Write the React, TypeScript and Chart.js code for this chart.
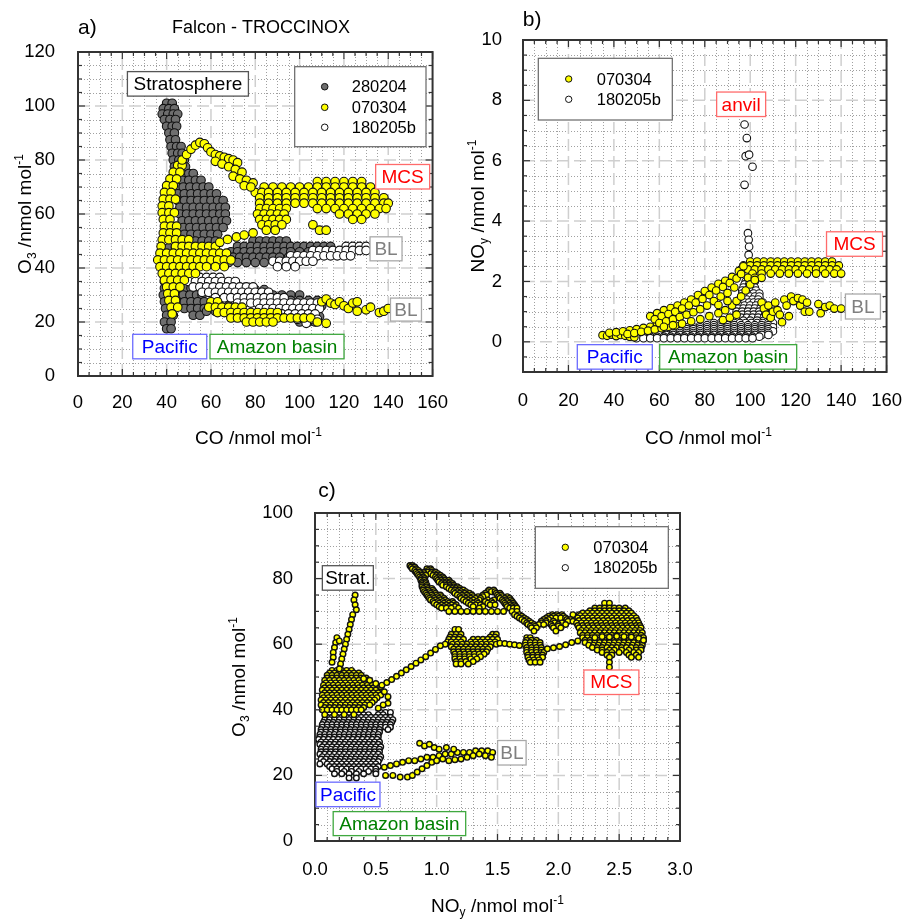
import React, { useEffect, useRef } from 'react';
import { Chart, registerables } from 'chart.js';

Chart.register(...registerables);

type P = [number, number];
type Row = number[]; // [y, x1, x2, ...]

const FAMILY = '"Liberation Sans", Arial, Helvetica, sans-serif';

// ---------------- Panel a : O3 vs CO ----------------
const A_X_TICKS = [0, 20, 40, 60, 80, 100, 120, 140, 160];
const A_Y_TICKS = [0, 20, 40, 60, 80, 100, 120];
const A_SERIES = ['280204', '070304', '180205b'];

const A_GREY_ROWS: Row[] = [
  [101, 40, 42.5],
  [99, 38.5, 41, 43.5],
  [97, 38, 40.5, 43, 45],
  [95, 39, 41.5, 44],
  [92.5, 40, 42.5, 44.5],
  [90, 41, 43.5],
  [87.5, 41.5, 44],
  [85, 42, 44.5, 46.5],
  [82.5, 42.5, 45, 47],
  [80, 43, 45.5, 48],
  [77.5, 43.5, 46, 48.5],
  [75, 44, 47, 50, 52],
  [72.5, 44, 47, 50, 53, 55.5],
  [70, 44.5, 47.5, 50.5, 53.5, 56.5, 59],
  [67.5, 45, 48, 51, 54, 57, 60, 62.5],
  [65, 45, 48, 51, 54, 57, 60, 63, 65.5],
  [62.5, 46, 49, 52, 55, 58, 61, 64, 66.5],
  [60, 46, 49, 52, 55, 58, 61, 64, 66.5],
  [57.5, 47, 50, 53, 56, 59, 62, 65, 67],
  [55, 47.5, 50.5, 53.5, 56.5, 59.5, 62.5, 65.5],
  [52.5, 48, 51, 54, 57, 60, 63],
  [50, 50, 53, 56, 59, 62],
  [47.5, 38, 41, 44],
  [45, 37.5, 40.5, 43.5],
  [42.5, 37, 40, 43],
  [40, 38, 41, 44],
  [37.5, 38.5, 41.5, 44.5],
  [35, 39, 42, 45, 48, 51],
  [32.5, 39, 42, 45, 48, 51, 54],
  [30, 38.5, 41.5, 44.5, 47.5, 50.5, 53.5, 56],
  [27.5, 39, 42, 45, 48, 51, 54, 57],
  [25, 39.5, 42.5, 48, 51, 54, 57],
  [22.5, 40, 43, 52, 55],
  [20, 39, 42],
  [17.5, 40, 42],
  [50, 79, 82, 85, 88, 91, 94],
  [48, 72, 75, 78, 81, 84, 87, 90, 93, 96, 99, 102, 105, 108, 111, 114],
  [46, 69, 72, 75, 78, 81, 84, 87, 90, 93, 96, 100, 104, 108, 112, 116, 119],
  [44, 67, 70, 73, 76, 79, 82, 85, 88, 91, 95],
  [42, 68, 72, 76, 80, 84],
  [34, 58, 62, 66, 70],
  [32, 60, 64, 68, 72, 76, 80, 84],
  [30, 76, 80, 84, 88, 92, 96, 100],
  [28, 84, 88, 92, 96, 100, 104, 108],
  [26, 60, 64, 68, 88, 92, 96, 100, 104, 108, 110],
  [24, 58, 62, 92, 96, 100, 104, 108],
  [22, 98, 102, 106, 109],
  [20, 100, 104, 107],
];

const A_WHITE_ROWS: Row[] = [
  [38, 50, 53],
  [36.5, 49, 52, 55, 58, 61, 64],
  [35, 50, 53, 56, 59, 62, 65, 68, 71],
  [33, 52, 55, 58, 61, 64, 67, 70, 73, 76, 79],
  [31, 56, 59, 62, 65, 68, 71, 74, 77, 80, 83, 86],
  [29, 62, 66, 69, 72, 75, 78, 81, 84, 87, 90, 93],
  [27, 72, 75, 78, 81, 84, 87, 90, 93, 96, 99, 102, 105, 108],
  [25, 82, 85, 88, 91, 94, 97, 100, 103, 106, 109],
  [23, 92, 95, 98, 101, 104, 107],
  [21, 99, 102, 105, 108],
  [19.5, 103],
  [48, 121, 124, 127, 130],
  [46.5, 106, 109, 112, 115, 118, 121, 124, 127, 130],
  [44.5, 96, 99, 102, 105, 108, 111, 114, 117, 120, 123],
  [42.5, 88, 91, 94, 97, 100, 103, 106],
  [40.5, 90, 94, 98],
];

const A_YELLOW_ROWS: Row[] = [
  [78, 45, 47],
  [75.5, 43, 46],
  [73, 41.5, 44.5],
  [70.5, 40, 43],
  [68, 39, 42],
  [65.5, 38.5, 41.5, 44],
  [63, 38, 41],
  [60.5, 38, 41, 43.5],
  [58, 38.5, 41.5],
  [55.5, 39, 42, 44.5],
  [53, 38.5, 41.5, 44.5],
  [50.5, 38, 41, 44, 47, 50],
  [48, 37.5, 44, 47, 50, 53, 56, 59, 62],
  [45.5, 37, 40, 43, 46, 49, 52, 55, 58, 61, 64, 67],
  [43, 36, 39, 42, 45, 48, 51, 54, 57, 60, 63, 66, 69],
  [40.5, 37, 40, 43, 46, 49, 52, 55, 58, 62, 66],
  [38, 38, 41, 44, 47, 50, 53],
  [35.5, 39, 42, 45, 48],
  [33, 40, 43, 46],
  [30.5, 40.5, 43.5],
  [28, 41, 44],
  [25.5, 42, 45],
  [23, 42.5],
  [27.5, 60, 63],
  [25.5, 59, 62, 65, 68, 71, 74],
  [23.5, 63, 66, 69, 72, 75, 78, 81, 84, 87, 90],
  [21.5, 69, 72, 75, 78, 81, 84, 87, 90, 93, 96, 99, 102, 105],
  [20, 76, 79, 82, 85, 88, 108],
  [72, 108, 112, 116, 120, 124, 128],
  [70, 84, 88, 92, 96, 100, 104, 108, 112, 116, 120, 124, 128, 132],
  [68, 80, 83, 86, 90, 94, 98, 102, 106, 110, 114, 118, 122, 126, 130, 134],
  [66, 82, 86, 90, 94, 98, 102, 106, 110, 114, 118, 122, 126, 130, 134, 138],
  [64, 82, 86, 90, 94, 98, 102, 106, 110, 114, 118, 122, 126, 130, 134, 138, 140],
  [62, 82, 85, 88, 91, 94, 108, 112, 116, 120, 124, 128, 132, 136, 139],
  [60, 81, 84, 87, 90, 93, 118, 122, 126, 130, 134],
  [58, 82, 85, 88, 91, 94, 124, 128],
  [56, 83, 86, 89, 92, 106],
  [54, 85, 89, 109, 112],
];

const A_YELLOW_PTS: P[] = [
  [47, 80], [49, 82], [51, 84], [53, 85.5], [55, 86.5], [57, 86], [58.5, 84.5], [60, 83], [62, 82],
  [64, 81.5], [66, 81], [68, 80.5], [70, 80], [72, 79], [62, 79.5], [65, 78.5], [68, 77.5], [71, 76.5],
  [74, 75.5], [70, 74], [73, 73], [76, 72.5], [79, 71.5], [75, 70.5], [78, 70],
  [64, 49.5], [67.5, 50.6], [71.5, 51.5], [75, 52.2], [79, 53],
  [110, 27.5], [112, 28.5], [114, 27], [116, 26.5], [118, 27.5], [120, 26], [122, 25], [124, 27],
  [126, 27.5], [126, 24], [130, 24.5], [132, 25.5], [136, 23.5], [138, 24], [140, 25], [112, 19.5],
];

// ---------------- Panel b : NOy vs CO ----------------
const B_X_TICKS = [0, 20, 40, 60, 80, 100, 120, 140, 160];
const B_Y_TICKS = [0, 2, 4, 6, 8, 10];
const B_SERIES = ['070304', '180205b'];

const B_YELLOW_PTS: P[] = [
  [35, 0.22], [37, 0.2], [39, 0.24], [41, 0.19], [43, 0.23], [45, 0.2], [47, 0.17], [49, 0.15],
  [38, 0.3], [41, 0.32], [44, 0.35], [47, 0.38], [50, 0.42], [53, 0.46], [56, 0.5], [59, 0.55],
  [46, 0.26], [49, 0.29], [52, 0.33], [55, 0.37], [58, 0.41], [61, 0.45], [64, 0.5], [67, 0.54],
  [56, 0.85], [59, 0.95], [62, 1.05], [65, 1.12], [68, 1.2], [71, 1.3], [74, 1.4], [77, 1.55], [80, 1.68],
  [83, 1.8], [86, 1.92], [89, 2.02], [92, 2.15], [95, 2.35], [97, 2.5],
  [58, 0.75], [61, 0.85], [64, 0.92], [67, 1.0], [70, 1.1], [73, 1.2], [76, 1.3], [79, 1.42], [82, 1.55],
  [85, 1.7], [88, 1.82], [91, 1.95], [94, 2.1], [96, 2.25],
  [60, 0.62], [63, 0.68], [66, 0.75], [69, 0.82], [72, 0.9], [75, 0.98], [78, 1.08], [81, 1.2], [84, 1.35],
  [87, 1.5], [90, 1.62], [93, 1.8],
  [62, 0.5], [66, 0.55], [70, 0.6], [74, 0.68], [78, 0.75], [82, 0.85], [86, 0.95], [89, 1.05], [92, 1.2],
  [94, 1.35], [96, 1.5], [98, 1.7], [100, 1.9], [102, 2.05],
  [88, 0.72], [91, 0.8], [94, 0.9], [90, 1.35], [86, 1.22],
  [105, 1.3], [106, 1.1], [107, 0.9], [108, 1.2], [109, 0.8], [110, 1.0], [111, 1.3], [112, 1.05], [113, 0.9],
  [114, 0.65], [115, 1.4], [116, 1.2], [117, 0.85], [118, 1.5], [119, 1.35], [121, 1.45], [122, 1.2],
  [123, 1.4], [124, 1.0], [125, 1.3], [126, 1.0], [130, 1.25], [131, 0.95], [133, 1.15], [135, 1.2],
  [137, 1.1], [140, 1.1],
];

const B_YELLOW_ROWS: Row[] = [
  [2.66, 100, 103, 106, 109, 112, 115, 118, 121, 124, 127, 130, 133, 136],
  [2.53, 97, 100, 103, 106, 109, 112, 115, 118, 121, 124, 127, 130, 133, 136, 139],
  [2.4, 96, 99, 102, 105, 108, 111, 114, 117, 120, 123, 126, 129, 132, 135, 138],
  [2.26, 101, 105, 109, 113, 117, 121, 125, 129, 133, 137, 140],
  [2.12, 99, 102, 105],
];

const B_WHITE_PTS: P[] = [
  [97.5, 7.2], [98.5, 6.75], [98, 6.15], [99.5, 6.2], [101, 5.8], [97.5, 5.2],
  [99, 3.6], [99.3, 3.38], [99.5, 3.15], [99.3, 2.88],
];

const B_WHITE_ROWS: Row[] = [
  [2.2, 99, 101],
  [2.0, 98, 100, 102],
  [1.9, 97.5, 99.5, 101.5],
  [1.8, 97, 99.5, 102],
  [1.7, 96.5, 98.5, 100.5, 102.5],
  [1.6, 96.5, 99, 101.5, 104],
  [1.5, 96, 98, 100, 102, 104],
  [1.4, 96, 98.5, 101, 103.5],
  [1.3, 95.5, 97.5, 99.5, 101.5, 103.5, 105.5],
  [1.2, 95, 97.5, 100, 102.5, 105],
  [1.1, 94.5, 97, 99.5, 102, 104.5, 107],
  [1.0, 94, 96.5, 99, 101.5, 104, 106.5],
  [0.9, 94, 96.5, 99, 101.5, 104, 106.5, 109],
  [0.8, 93.5, 96, 98.5, 101, 103.5, 106, 108.5],
  [0.7, 88, 91, 94, 97, 100, 103, 106, 109],
  [0.62, 84, 87, 90, 93, 95.5, 98, 100.5, 103, 105.5, 108, 110],
  [0.55, 78, 81, 84, 87, 90, 93, 96, 99, 102, 105, 108],
  [0.48, 72, 75, 78, 81, 84, 87, 90, 93, 96, 99, 102, 105, 108, 110],
  [0.42, 66, 69, 72, 75, 78, 81, 84, 87, 90, 93, 96, 99, 102, 105, 108],
  [0.35, 60, 63, 66, 69, 72, 75, 78, 81, 84, 87, 90, 93, 96, 99, 102, 105, 108, 110],
  [0.29, 54, 57, 60, 63, 66, 69, 72, 75, 78, 81, 84, 87, 90, 93, 96, 99, 102, 105, 108],
  [0.23, 48, 51, 54, 57, 60, 63, 66, 69, 72, 75, 78, 81, 84, 87, 90, 93, 96, 99, 102, 105, 108],
  [0.17, 47, 50, 53, 56, 59, 62, 65, 68, 71, 74, 77, 80, 83, 86, 89, 92, 95, 98, 101, 104],
  [0.12, 50, 53, 56, 59, 62, 65, 68, 71, 74, 77, 80, 83, 86, 89, 92, 95, 98, 101],
];

// ---------------- Panel c : O3 vs NOy ----------------
const C_X_TICKS = [0, 0.5, 1.0, 1.5, 2.0, 2.5, 3.0];
const C_Y_TICKS = [0, 20, 40, 60, 80, 100];
const C_SERIES = ['070304', '180205b'];

const C_YELLOW_ROWS: Row[] = [
  [52, 0.14, 0.18, 0.22, 0.26, 0.3],
  [51.2, 0.12, 0.16, 0.2, 0.24, 0.28, 0.32, 0.36],
  [50.5, 0.1, 0.14, 0.18, 0.22, 0.26, 0.3, 0.34, 0.38],
  [49.7, 0.1, 0.14, 0.18, 0.22, 0.26, 0.3, 0.34, 0.38, 0.42],
  [49, 0.08, 0.12, 0.16, 0.2, 0.24, 0.28, 0.32, 0.36, 0.4, 0.44],
  [48.2, 0.09, 0.13, 0.17, 0.21, 0.25, 0.29, 0.33, 0.37, 0.41, 0.45],
  [47.5, 0.07, 0.11, 0.15, 0.19, 0.23, 0.27, 0.31, 0.35, 0.39, 0.43, 0.47],
  [46.7, 0.08, 0.12, 0.16, 0.2, 0.24, 0.28, 0.32, 0.36, 0.4, 0.44, 0.48],
  [46, 0.06, 0.1, 0.14, 0.18, 0.22, 0.26, 0.3, 0.34, 0.38, 0.42, 0.46, 0.5],
  [45.2, 0.08, 0.12, 0.16, 0.2, 0.24, 0.28, 0.32, 0.36, 0.4, 0.44, 0.48, 0.52],
  [44.5, 0.06, 0.1, 0.14, 0.18, 0.22, 0.26, 0.3, 0.34, 0.38, 0.42, 0.46, 0.5, 0.54],
  [43.7, 0.07, 0.11, 0.15, 0.19, 0.23, 0.27, 0.31, 0.35, 0.39, 0.43, 0.47, 0.51],
  [43, 0.05, 0.09, 0.13, 0.17, 0.21, 0.25, 0.29, 0.33, 0.37, 0.41, 0.45, 0.49],
  [42.2, 0.07, 0.11, 0.15, 0.19, 0.23, 0.27, 0.31, 0.35, 0.39, 0.43, 0.47],
  [41.5, 0.05, 0.09, 0.13, 0.17, 0.21, 0.25, 0.29, 0.33, 0.37, 0.41, 0.45],
  [40.7, 0.08, 0.12, 0.16, 0.2, 0.24, 0.28, 0.32, 0.36, 0.4],
  [40, 0.06, 0.1, 0.14, 0.18, 0.22, 0.26, 0.3, 0.34, 0.38],
  [38.5, 0.08, 0.16, 0.24, 0.32],
  [84, 0.78, 0.8],
  [83.5, 0.79, 0.82],
  [83, 0.8, 0.83, 0.92, 0.95],
  [82.5, 0.82, 0.85, 0.93, 0.96],
  [82, 0.83, 0.86, 0.9, 0.93, 0.96, 0.99],
  [81.5, 0.84, 0.87, 0.9, 0.95, 0.98, 1.01],
  [81, 0.85, 0.88, 0.91, 0.97, 1.0, 1.03],
  [80.5, 0.86, 0.89, 0.99, 1.02, 1.05],
  [80, 0.87, 0.9, 1.0, 1.03, 1.06],
  [79.5, 0.87, 0.9, 1.01, 1.04, 1.07, 1.1],
  [79, 0.88, 0.91, 1.02, 1.05, 1.08, 1.11],
  [78.5, 0.88, 0.91, 1.04, 1.07, 1.1, 1.13],
  [78, 0.88, 0.92, 1.05, 1.08, 1.11, 1.14],
  [77.5, 0.88, 0.92, 1.08, 1.11, 1.14, 1.17],
  [77, 0.89, 0.93, 0.96, 1.1, 1.13, 1.16, 1.19],
  [76.5, 0.89, 0.93, 0.97, 1.12, 1.15, 1.19, 1.22, 1.43, 1.47],
  [76, 0.9, 0.94, 0.98, 1.14, 1.17, 1.2, 1.24, 1.42, 1.45, 1.48],
  [75.5, 0.91, 0.95, 0.99, 1.15, 1.19, 1.23, 1.27, 1.4, 1.49, 1.52],
  [75, 0.92, 0.96, 1.0, 1.03, 1.17, 1.21, 1.25, 1.29, 1.38, 1.41, 1.5, 1.53],
  [74.5, 0.93, 0.97, 1.01, 1.04, 1.19, 1.22, 1.26, 1.3, 1.34, 1.38, 1.51, 1.54, 1.58],
  [74, 0.94, 0.98, 1.02, 1.06, 1.2, 1.24, 1.28, 1.32, 1.36, 1.52, 1.56, 1.6],
  [73.5, 0.95, 0.99, 1.03, 1.07, 1.22, 1.26, 1.3, 1.35, 1.42, 1.47, 1.54, 1.57, 1.61],
  [73, 0.97, 1.01, 1.05, 1.09, 1.13, 1.24, 1.28, 1.33, 1.4, 1.45, 1.55, 1.58, 1.62],
  [72.5, 0.98, 1.02, 1.06, 1.1, 1.14, 1.26, 1.3, 1.34, 1.42, 1.46, 1.56, 1.6, 1.63],
  [72, 1.0, 1.04, 1.08, 1.12, 1.16, 1.28, 1.32, 1.36, 1.44, 1.48, 1.57, 1.61, 1.64],
  [71.5, 1.02, 1.06, 1.1, 1.15, 1.3, 1.38, 1.58, 1.62, 1.65],
  [71, 1.04, 1.08, 1.12, 1.18, 1.35, 1.6, 1.63, 1.66],
  [70, 1.1, 1.15, 1.2, 1.25, 1.3, 1.35, 1.4, 1.45, 1.5, 1.55, 1.62, 1.66],
  [69, 1.64, 1.68, 1.95, 1.99, 2.03, 2.12, 2.17, 2.22],
  [68.5, 1.66, 1.7, 1.92, 1.96, 2.0, 2.04],
  [68, 1.68, 1.72, 1.9, 1.94, 1.98, 2.02, 2.06],
  [67.5, 1.7, 1.74, 1.88, 1.92, 2.07, 2.1],
  [67, 1.72, 1.76, 1.86, 1.9, 1.96, 2.08, 2.12],
  [66.5, 1.74, 1.78, 1.86, 1.9, 1.97, 2.03],
  [66, 1.75, 1.8, 1.84, 1.88, 1.94, 2.0, 2.06],
  [65.5, 1.77, 1.81, 1.95, 2.0],
  [65, 1.78, 1.82, 1.96, 2.02],
  [64, 1.8, 1.98],
  [72.5, 2.38, 2.42],
  [71, 2.3, 2.34, 2.38, 2.42, 2.46, 2.5, 2.55],
  [70.2, 2.26, 2.3, 2.34, 2.38, 2.42, 2.46, 2.5, 2.54, 2.58],
  [69.5, 2.2, 2.24, 2.28, 2.32, 2.36, 2.4, 2.44, 2.48, 2.52, 2.56, 2.6],
  [68.7, 2.18, 2.22, 2.26, 2.3, 2.34, 2.38, 2.42, 2.46, 2.5, 2.54, 2.58, 2.62],
  [68, 2.16, 2.2, 2.24, 2.28, 2.32, 2.36, 2.4, 2.44, 2.48, 2.52, 2.56, 2.6, 2.64],
  [67.2, 2.17, 2.21, 2.25, 2.29, 2.33, 2.37, 2.41, 2.45, 2.49, 2.53, 2.57, 2.61, 2.65],
  [66.5, 2.15, 2.19, 2.23, 2.27, 2.31, 2.35, 2.39, 2.43, 2.47, 2.51, 2.55, 2.59, 2.63, 2.66],
  [65.7, 2.16, 2.2, 2.24, 2.28, 2.32, 2.36, 2.4, 2.44, 2.48, 2.52, 2.56, 2.6, 2.64, 2.67],
  [65, 2.17, 2.21, 2.25, 2.29, 2.33, 2.37, 2.41, 2.45, 2.49, 2.53, 2.57, 2.61, 2.65, 2.68],
  [64.2, 2.19, 2.23, 2.27, 2.31, 2.35, 2.39, 2.43, 2.47, 2.51, 2.55, 2.59, 2.63, 2.67],
  [63.5, 2.18, 2.22, 2.26, 2.3, 2.34, 2.38, 2.42, 2.46, 2.5, 2.54, 2.58, 2.62, 2.66, 2.69],
  [62.7, 2.2, 2.24, 2.28, 2.32, 2.36, 2.4, 2.44, 2.48, 2.52, 2.56, 2.6, 2.64, 2.68],
  [62, 2.2, 2.24, 2.28, 2.32, 2.36, 2.4, 2.44, 2.48, 2.52, 2.56, 2.6, 2.64, 2.68, 2.7],
  [61.2, 2.22, 2.26, 2.3, 2.34, 2.38, 2.42, 2.46, 2.5, 2.54, 2.58, 2.62, 2.66, 2.7],
  [60.5, 2.22, 2.26, 2.3, 2.34, 2.38, 2.42, 2.46, 2.5, 2.54, 2.58, 2.62, 2.66, 2.69],
  [59.7, 2.25, 2.29, 2.33, 2.37, 2.41, 2.45, 2.49, 2.53, 2.57, 2.61, 2.65, 2.69],
  [59, 2.28, 2.32, 2.36, 2.4, 2.44, 2.48, 2.52, 2.56, 2.6, 2.64, 2.68],
  [58.2, 2.32, 2.36, 2.42, 2.46, 2.52, 2.58, 2.64, 2.68],
  [57.5, 2.36, 2.4, 2.44, 2.5, 2.56, 2.62, 2.66],
  [56.7, 2.4, 2.44, 2.58, 2.64],
  [56, 2.42, 2.6, 2.66],
  [54.5, 2.42],
  [53, 2.42],
  [64.5, 1.15, 1.18],
  [63, 1.12, 1.16, 1.2, 1.46, 1.49],
  [62.2, 1.11, 1.15, 1.19, 1.44, 1.48],
  [61.5, 1.1, 1.14, 1.18, 1.22, 1.3, 1.34, 1.38, 1.42, 1.46, 1.5],
  [60.7, 1.09, 1.12, 1.16, 1.2, 1.28, 1.32, 1.36, 1.4, 1.44, 1.48],
  [60, 1.07, 1.13, 1.17, 1.21, 1.25, 1.29, 1.33, 1.37, 1.41, 1.45, 1.49],
  [59.2, 1.12, 1.16, 1.2, 1.24, 1.28, 1.32, 1.36, 1.4, 1.44],
  [58.5, 1.14, 1.18, 1.22, 1.26, 1.3, 1.34, 1.38, 1.42],
  [57.7, 1.14, 1.18, 1.22, 1.26, 1.3, 1.34, 1.38, 1.41],
  [57, 1.15, 1.19, 1.23, 1.27, 1.31, 1.35, 1.39],
  [56.2, 1.15, 1.19, 1.23, 1.27, 1.31, 1.36],
  [55.5, 1.15, 1.19, 1.23, 1.28, 1.33],
  [54.7, 1.16, 1.2, 1.24, 1.3],
  [54, 1.16, 1.2, 1.26],
  [62, 1.74, 1.77],
  [61.2, 1.74, 1.78, 1.82],
  [60.5, 1.73, 1.77, 1.81, 1.85],
  [59.7, 1.73, 1.77, 1.81, 1.85],
  [59, 1.74, 1.78, 1.82, 1.86],
  [58.2, 1.74, 1.78, 1.82, 1.86],
  [57.5, 1.74, 1.78, 1.82, 1.86, 1.88],
  [56.7, 1.75, 1.79, 1.83, 1.87],
  [56, 1.75, 1.79, 1.83, 1.87],
  [55.2, 1.76, 1.8, 1.84],
  [54.5, 1.77, 1.81, 1.85],
];

const C_YELLOW_PTS: P[] = [
  [0.33, 75], [0.32, 73.5], [0.33, 72], [0.34, 70.5], [0.31, 69], [0.3, 67.5], [0.29, 66], [0.28, 64.5],
  [0.27, 63], [0.26, 61.5], [0.25, 60], [0.24, 58.5], [0.23, 57], [0.22, 55.5], [0.21, 54], [0.2, 52.5],
  [0.18, 62], [0.17, 60.5], [0.16, 59], [0.15, 57.5], [0.15, 56], [0.14, 54.5], [0.2, 61],
  [0.4, 49.5], [0.45, 49], [0.5, 48], [0.54, 47], [0.57, 45.5], [0.6, 44], [0.6, 42], [0.56, 41.5], [0.52, 40.5],
  [0.55, 47.5], [0.59, 48.3], [0.63, 49.2], [0.67, 50.2], [0.71, 51.2], [0.75, 52.2], [0.79, 53.2],
  [0.83, 54.2], [0.87, 55.2], [0.91, 56.2], [0.95, 57.3], [0.99, 58.4], [1.03, 59.5],
  [1.52, 60.3], [1.56, 60.2], [1.6, 60], [1.64, 59.8], [1.68, 59.6],
  [1.91, 58.6], [1.96, 58.9], [2.01, 59.3], [2.06, 59.8], [2.11, 60.5], [2.16, 61],
  [2.3, 62], [2.36, 62.3], [2.42, 62.2], [2.48, 62.4], [2.54, 62.3], [2.6, 62.2], [2.66, 61.8], [2.7, 61.2],
  [0.57, 22.5], [0.62, 23], [0.67, 23.5], [0.72, 24], [0.77, 24.5], [0.82, 24.5], [0.87, 25], [0.92, 25.5],
  [0.97, 25.5], [1.02, 26], [1.07, 26.5], [1.12, 26.5], [1.17, 27], [1.22, 27], [1.27, 27], [1.32, 27.5],
  [1.37, 27.5], [1.42, 27.5], [1.46, 27],
  [0.86, 29.8], [0.9, 29], [0.94, 29.5], [0.98, 28.5], [1.02, 28], [1.08, 28.5], [1.14, 28],
  [0.58, 20], [0.64, 20], [0.7, 19.5], [0.76, 19.5], [0.8, 20], [0.84, 21], [0.88, 22], [0.92, 23],
  [0.96, 24], [1.0, 24.5], [1.05, 25], [1.25, 25.5], [1.3, 26], [1.35, 26.5], [1.4, 26], [1.45, 25.5],
  [1.1, 24.5], [1.15, 24.8], [1.2, 25],
];

const C_WHITE_ROWS: Row[] = [
  [40, 0.22, 0.26, 0.3],
  [39.2, 0.14, 0.18, 0.22, 0.26, 0.3, 0.34, 0.38, 0.54, 0.58, 0.62],
  [38.5, 0.12, 0.16, 0.2, 0.24, 0.28, 0.32, 0.36, 0.4, 0.44, 0.52, 0.56],
  [37.7, 0.1, 0.14, 0.18, 0.22, 0.26, 0.3, 0.34, 0.38, 0.42, 0.46, 0.5, 0.54, 0.58, 0.62],
  [37, 0.08, 0.12, 0.16, 0.2, 0.24, 0.28, 0.32, 0.36, 0.4, 0.44, 0.48, 0.52, 0.56, 0.6, 0.64],
  [36.2, 0.07, 0.11, 0.15, 0.19, 0.23, 0.27, 0.31, 0.35, 0.39, 0.43, 0.47, 0.51, 0.55, 0.59, 0.63],
  [35.5, 0.06, 0.1, 0.14, 0.18, 0.22, 0.26, 0.3, 0.34, 0.38, 0.42, 0.46, 0.5, 0.54, 0.58, 0.62],
  [34.7, 0.06, 0.1, 0.14, 0.18, 0.22, 0.26, 0.3, 0.34, 0.38, 0.42, 0.46, 0.5, 0.54, 0.58, 0.62],
  [34, 0.05, 0.09, 0.13, 0.17, 0.21, 0.25, 0.29, 0.33, 0.37, 0.41, 0.45, 0.49, 0.53, 0.6],
  [33.2, 0.05, 0.09, 0.13, 0.17, 0.21, 0.25, 0.29, 0.33, 0.37, 0.41, 0.45, 0.49, 0.53],
  [32.5, 0.04, 0.08, 0.12, 0.16, 0.2, 0.24, 0.28, 0.32, 0.36, 0.4, 0.44, 0.48, 0.52],
  [31.7, 0.04, 0.08, 0.12, 0.16, 0.2, 0.24, 0.28, 0.32, 0.36, 0.4, 0.44, 0.48, 0.52],
  [31, 0.03, 0.07, 0.11, 0.15, 0.19, 0.23, 0.27, 0.31, 0.35, 0.39, 0.43, 0.47, 0.51],
  [30.2, 0.05, 0.09, 0.13, 0.17, 0.21, 0.25, 0.29, 0.33, 0.37, 0.41, 0.45, 0.49, 0.53],
  [29.5, 0.04, 0.08, 0.12, 0.16, 0.2, 0.24, 0.28, 0.32, 0.36, 0.4, 0.44, 0.48, 0.52],
  [28.7, 0.06, 0.1, 0.14, 0.18, 0.22, 0.26, 0.3, 0.34, 0.38, 0.42, 0.46, 0.5, 0.54],
  [28, 0.05, 0.09, 0.13, 0.17, 0.21, 0.25, 0.29, 0.33, 0.37, 0.41, 0.45, 0.49, 0.53],
  [27.2, 0.05, 0.09, 0.13, 0.17, 0.21, 0.25, 0.29, 0.33, 0.37, 0.41, 0.45, 0.49, 0.53],
  [26.5, 0.04, 0.08, 0.12, 0.16, 0.2, 0.24, 0.28, 0.32, 0.36, 0.4, 0.44, 0.48, 0.52],
  [25.7, 0.06, 0.1, 0.14, 0.18, 0.22, 0.26, 0.3, 0.34, 0.38, 0.42, 0.46, 0.5, 0.54],
  [25, 0.05, 0.09, 0.13, 0.17, 0.21, 0.25, 0.29, 0.33, 0.37, 0.41, 0.45, 0.49, 0.53],
  [24.2, 0.07, 0.12, 0.16, 0.2, 0.24, 0.28, 0.32, 0.36, 0.4, 0.44, 0.48, 0.52],
  [23.5, 0.04, 0.1, 0.14, 0.18, 0.22, 0.26, 0.3, 0.34, 0.38, 0.42, 0.46, 0.5],
  [22.7, 0.12, 0.16, 0.2, 0.24, 0.28, 0.32, 0.36, 0.4, 0.44, 0.48, 0.52],
  [22, 0.14, 0.18, 0.22, 0.26, 0.3, 0.34, 0.38, 0.42, 0.46, 0.5],
  [21.2, 0.18, 0.24, 0.3, 0.36, 0.44, 0.5],
  [20.5, 0.16, 0.22, 0.28, 0.34, 0.4, 0.5],
  [19.2, 0.28, 0.34],
];

// ---------------- helpers ----------------
const rowsToPts = (rows: Row[]): P[] => {
  const out: P[] = [];
  for (const r of rows) for (let i = 1; i < r.length; i++) out.push([r[i], r[0]]);
  return out;
};

type Part = { t: string; s?: 'sub' | 'sup' };
interface Axis { min: number; max: number; ticks: number[]; minor: number; fmt: (v: number) => string; pad: number }
interface Anno { text: string; x: number; y: number; w: number; h: number; color: string; border: string }
interface Series { label: string; data: P[]; fill: string }
interface PanelCfg {
  left: number; top: number; w: number; h: number;
  area: { l: number; t: number; r: number; b: number };
  x: Axis; y: Axis;
  radius: number; bw: number;
  series: Series[]; // first = drawn on top
  legend: { x0: number; y0: number; x1: number; y1: number; mx: number; tx: number; r: number; ys: number[]; rows: { label: string; fill: string }[] };
  annos: Anno[];
  xTitle: { parts: Part[]; x: number; y: number };
  yTitle: { parts: Part[]; x: number; y: number };
  texts: { t: string; x: number; y: number; size: number; align: CanvasTextAlign }[];
}

const GREY = '#6e6e6e';
const YELLOW = '#ffff00';
const WHITE = '#ffffff';
const RED = { color: '#ff0000', border: '#ff6b6b' };
const GRAYT = { color: '#808080', border: '#a9a9a9' };
const BLUE = { color: '#0000ff', border: '#6b6bff' };
const GREEN = { color: '#008000', border: '#3fa83f' };
const BLACK = { color: '#000000', border: '#555555' };
const XH = 40;

function drawRich(ctx: CanvasRenderingContext2D, parts: Part[], cx: number, cy: number, size: number, rotate: boolean) {
  const big = `${size}px ${FAMILY}`;
  const small = `${Math.round(size * 0.62)}px ${FAMILY}`;
  let w = 0;
  for (const p of parts) { ctx.font = p.s ? small : big; w += ctx.measureText(p.t).width; }
  ctx.save();
  ctx.translate(cx, cy);
  if (rotate) ctx.rotate(-Math.PI / 2);
  ctx.fillStyle = '#000';
  ctx.textBaseline = 'alphabetic';
  ctx.textAlign = 'left';
  let x = -w / 2;
  const base = size * 0.36;
  for (const p of parts) {
    ctx.font = p.s ? small : big;
    const dy = p.s === 'sub' ? size * 0.22 : p.s === 'sup' ? -size * 0.42 : 0;
    ctx.fillText(p.t, x, base + dy);
    x += ctx.measureText(p.t).width;
  }
  ctx.restore();
}

function makeDecor(cfg: PanelCfg) {
  const vals = (a: Axis) => {
    const out: number[] = [];
    const n = Math.round((a.max - a.min) / a.minor);
    for (let i = 0; i <= n; i++) out.push(+(a.min + i * a.minor).toFixed(6));
    return out;
  };
  const isMaj = (a: Axis, v: number) => a.ticks.some((t) => Math.abs(t - v) < 1e-6);
  return {
    id: 'decor',
    beforeDatasetsDraw(chart: any) {
      const { ctx, chartArea: ca, scales } = chart;
      const xs = scales.x, ys = scales.y;
      ctx.save();
      const line = (x1: number, y1: number, x2: number, y2: number) => {
        ctx.beginPath(); ctx.moveTo(x1, y1); ctx.lineTo(x2, y2); ctx.stroke();
      };
      ctx.lineWidth = 1; ctx.strokeStyle = '#a0a0a0'; ctx.setLineDash([1, 2]);
      for (const v of vals(cfg.x)) {
        if (isMaj(cfg.x, v) || v <= cfg.x.min || v >= cfg.x.max) continue;
        const p = Math.round(xs.getPixelForValue(v)) + 0.5; line(p, ca.bottom, p, ca.top);
      }
      for (const v of vals(cfg.y)) {
        if (isMaj(cfg.y, v) || v <= cfg.y.min || v >= cfg.y.max) continue;
        const p = Math.round(ys.getPixelForValue(v)) + 0.5; line(ca.left, p, ca.right, p);
      }
      ctx.lineWidth = 1.5; ctx.strokeStyle = '#cfcfcf'; ctx.setLineDash([12, 5]);
      for (const v of cfg.x.ticks) {
        if (v <= cfg.x.min || v >= cfg.x.max) continue;
        const p = xs.getPixelForValue(v); line(p, ca.bottom, p, ca.top);
      }
      for (const v of cfg.y.ticks) {
        if (v <= cfg.y.min || v >= cfg.y.max) continue;
        const p = ys.getPixelForValue(v); line(ca.left, p, ca.right, p);
      }
      ctx.restore();
    },
    afterDatasetsDraw(chart: any) {
      const { ctx, chartArea: ca, scales } = chart;
      const xs = scales.x, ys = scales.y;
      ctx.save();
      ctx.setLineDash([]);
      ctx.strokeStyle = '#333'; ctx.lineWidth = 2;
      ctx.strokeRect(ca.left, ca.top, ca.right - ca.left, ca.bottom - ca.top);
      ctx.lineWidth = 1.2;
      const seg = (x1: number, y1: number, x2: number, y2: number) => {
        ctx.beginPath(); ctx.moveTo(x1, y1); ctx.lineTo(x2, y2); ctx.stroke();
      };
      for (const v of vals(cfg.x)) {
        const L = isMaj(cfg.x, v) ? 7 : 4;
        const p = xs.getPixelForValue(v);
        seg(p, ca.bottom, p, ca.bottom - L); seg(p, ca.top, p, ca.top + L);
      }
      for (const v of vals(cfg.y)) {
        const L = isMaj(cfg.y, v) ? 7 : 4;
        const p = ys.getPixelForValue(v);
        seg(ca.left, p, ca.left + L, p); seg(ca.right, p, ca.right - L, p);
      }
      for (const a of cfg.annos) {
        const cx = xs.getPixelForValue(a.x), cy = ys.getPixelForValue(a.y);
        ctx.fillStyle = '#fff';
        ctx.fillRect(cx - a.w / 2, cy - a.h / 2, a.w, a.h);
        ctx.strokeStyle = a.border; ctx.lineWidth = 1.3;
        ctx.strokeRect(cx - a.w / 2, cy - a.h / 2, a.w, a.h);
        ctx.fillStyle = a.color;
        ctx.font = `19px ${FAMILY}`;
        ctx.textAlign = 'center'; ctx.textBaseline = 'middle';
        ctx.fillText(a.text, cx, cy + 1);
      }
      const lg = cfg.legend;
      ctx.fillStyle = '#fff';
      ctx.fillRect(lg.x0, lg.y0, lg.x1 - lg.x0, lg.y1 - lg.y0);
      ctx.strokeStyle = '#666'; ctx.lineWidth = 1.2;
      ctx.strokeRect(lg.x0, lg.y0, lg.x1 - lg.x0, lg.y1 - lg.y0);
      lg.rows.forEach((r, i) => {
        const y = lg.ys[i];
        ctx.beginPath(); ctx.arc(lg.mx, y, lg.r, 0, Math.PI * 2);
        ctx.fillStyle = r.fill; ctx.fill();
        ctx.strokeStyle = '#111'; ctx.lineWidth = 1; ctx.stroke();
        ctx.fillStyle = '#000'; ctx.font = `16.5px ${FAMILY}`;
        ctx.textAlign = 'left'; ctx.textBaseline = 'middle';
        ctx.fillText(r.label, lg.tx, y + 1);
      });
      drawRich(ctx, cfg.xTitle.parts, cfg.xTitle.x, cfg.xTitle.y, 19, false);
      drawRich(ctx, cfg.yTitle.parts, cfg.yTitle.x, cfg.yTitle.y, 19, true);
      for (const t of cfg.texts) {
        ctx.fillStyle = '#000'; ctx.font = `${t.size}px ${FAMILY}`;
        ctx.textAlign = t.align; ctx.textBaseline = 'middle';
        ctx.fillText(t.t, t.x, t.y);
      }
      ctx.restore();
    },
  };
}

const int = (v: number) => String(Math.round(v));
const one = (v: number) => v.toFixed(1);

const CO_TITLE: Part[] = [{ t: 'CO /nmol mol' }, { t: '-1', s: 'sup' }];
const O3_TITLE: Part[] = [{ t: 'O' }, { t: '3', s: 'sub' }, { t: ' /nmol mol' }, { t: '-1', s: 'sup' }];
const NOY_TITLE: Part[] = [{ t: 'NO' }, { t: 'y', s: 'sub' }, { t: ' /nmol mol' }, { t: '-1', s: 'sup' }];

const PANELS: PanelCfg[] = [
  {
    left: 0, top: 0, w: 456, h: 460,
    area: { l: 78, t: 52, r: 439, b: 376 },
    x: { min: 0, max: 160, ticks: A_X_TICKS, minor: 5, fmt: int, pad: 8 },
    y: { min: 0, max: 120, ticks: A_Y_TICKS, minor: 5, fmt: int, pad: 15 },
    radius: 4.3, bw: 1.1,
    series: [
      { label: A_SERIES[1], data: [...rowsToPts(A_YELLOW_ROWS), ...A_YELLOW_PTS], fill: YELLOW },
      { label: A_SERIES[2], data: rowsToPts(A_WHITE_ROWS), fill: WHITE },
      { label: A_SERIES[0], data: rowsToPts(A_GREY_ROWS), fill: GREY },
    ],
    legend: {
      x0: 294.7, y0: 66.7, x1: 426, y1: 146.7, mx: 324.7, tx: 351.7, r: 3.3, ys: [86.7, 107.3, 127.3],
      rows: [{ label: A_SERIES[0], fill: GREY }, { label: A_SERIES[1], fill: YELLOW }, { label: A_SERIES[2], fill: WHITE }],
    },
    annos: [
      { text: 'Stratosphere', x: 49.6, y: 108.2, w: 121, h: 24.5, ...BLACK },
      { text: 'MCS', x: 146.5, y: 73.8, w: 54, h: 24.5, ...RED },
      { text: 'BL', x: 139, y: 47.1, w: 32, h: 24, ...GRAYT },
      { text: 'BL', x: 148, y: 24.6, w: 31, h: 23, ...GRAYT },
      { text: 'Pacific', x: 41.4, y: 10.9, w: 74, h: 24.5, ...BLUE },
      { text: 'Amazon basin', x: 89.8, y: 10.9, w: 134, h: 24.5, ...GREEN },
    ],
    xTitle: { parts: CO_TITLE, x: 258.5, y: 437 },
    yTitle: { parts: O3_TITLE, x: 24.5, y: 214 },
    texts: [
      { t: 'a)', x: 78, y: 28, size: 21, align: 'left' },
      { t: 'Falcon - TROCCINOX', x: 261, y: 28, size: 18, align: 'center' },
    ],
  },
  {
    left: 456, top: 0, w: 456, h: 460,
    area: { l: 67, t: 40, r: 438, b: 372 },
    x: { min: 0, max: 160, ticks: B_X_TICKS, minor: 5, fmt: int, pad: 10 },
    y: { min: -1, max: 10, ticks: B_Y_TICKS, minor: 0.5, fmt: int, pad: 13 },
    radius: 3.8, bw: 1.1,
    series: [
      { label: B_SERIES[0], data: [...rowsToPts(B_YELLOW_ROWS), ...B_YELLOW_PTS], fill: YELLOW },
      { label: B_SERIES[1], data: [...rowsToPts(B_WHITE_ROWS), ...B_WHITE_PTS], fill: WHITE },
    ],
    legend: {
      x0: 82.3, y0: 58.3, x1: 216.3, y1: 120, mx: 112.7, tx: 140.7, r: 3.2, ys: [79, 99.3],
      rows: [{ label: B_SERIES[0], fill: YELLOW }, { label: B_SERIES[1], fill: WHITE }],
    },
    annos: [
      { text: 'anvil', x: 96.0, y: 7.87, w: 49, h: 24.5, ...RED },
      { text: 'MCS', x: 145.9, y: 3.24, w: 56, h: 24.5, ...RED },
      { text: 'BL', x: 149.6, y: 1.17, w: 35, h: 25, ...GRAYT },
      { text: 'Pacific', x: 40.4, y: -0.5, w: 75, h: 24.5, ...BLUE },
      { text: 'Amazon basin', x: 90.3, y: -0.5, w: 137, h: 24.5, ...GREEN },
    ],
    xTitle: { parts: CO_TITLE, x: 252.5, y: 437 },
    yTitle: { parts: NOY_TITLE, x: 21, y: 206 },
    texts: [{ t: 'b)', x: 66.7, y: 20.7, size: 21, align: 'left' }],
  },
  {
    left: 228, top: 460, w: 480, h: 459,
    area: { l: 87, t: 53, r: 452, b: 381 },
    x: { min: 0, max: 3, ticks: C_X_TICKS, minor: 0.1, fmt: one, pad: 10 },
    y: { min: 0, max: 100, ticks: C_Y_TICKS, minor: 5, fmt: int, pad: 14 },
    radius: 2.8, bw: 1.4,
    series: [
      { label: C_SERIES[0], data: [...rowsToPts(C_YELLOW_ROWS), ...C_YELLOW_PTS], fill: YELLOW },
      { label: C_SERIES[1], data: rowsToPts(C_WHITE_ROWS), fill: WHITE },
    ],
    legend: {
      x0: 307.3, y0: 66.7, x1: 440.3, y1: 128.3, mx: 337.3, tx: 365.3, r: 3.2, ys: [87.3, 107.7],
      rows: [{ label: C_SERIES[0], fill: YELLOW }, { label: C_SERIES[1], fill: WHITE }],
    },
    annos: [
      { text: 'Strat.', x: 0.27, y: 80.2, w: 51, h: 24.5, ...BLACK },
      { text: 'MCS', x: 2.436, y: 48.4, w: 55, h: 24.5, ...RED },
      { text: 'BL', x: 1.618, y: 26.9, w: 28.5, h: 24.5, ...GRAYT },
      { text: 'Pacific', x: 0.271, y: 14.2, w: 64, h: 24.5, ...BLUE },
      { text: 'Amazon basin', x: 0.694, y: 5.3, w: 132.5, h: 24, ...GREEN },
    ],
    xTitle: { parts: NOY_TITLE, x: 269.5, y: 445 },
    yTitle: { parts: O3_TITLE, x: 10, y: 217 },
    texts: [{ t: 'c)', x: 90.3, y: 31.7, size: 21, align: 'left' }],
  },
];

function buildChart(canvas: HTMLCanvasElement, cfg: PanelCfg) {
  const axisOpts = (a: Axis, isX: boolean) => ({
    type: 'linear' as const,
    position: isX ? 'bottom' : 'left',
    min: a.min,
    max: a.max,
    afterBuildTicks: (s: any) => { s.ticks = a.ticks.map((v) => ({ value: v })); },
    afterFit: (s: any) => { if (isX) s.height = XH; else s.width = cfg.area.l; },
    ticks: {
      callback: (v: any) => a.fmt(Number(v)),
      font: { family: FAMILY, size: 18.5 },
      color: '#000',
      padding: a.pad,
      autoSkip: false,
      maxRotation: 0,
      minRotation: 0,
    },
    grid: { display: false },
    border: { display: false },
  });
  return new Chart(canvas, {
    type: 'scatter',
    data: {
      datasets: cfg.series.map((s, i) => ({
        label: s.label,
        data: s.data.map(([x, y]) => ({ x, y })),
        backgroundColor: s.fill,
        borderColor: '#111',
        borderWidth: cfg.bw,
        pointRadius: cfg.radius,
        pointHoverRadius: cfg.radius,
        order: i,
      })),
    },
    options: {
      animation: false,
      responsive: false,
      maintainAspectRatio: false,
      events: [],
      layout: { padding: { left: 0, top: cfg.area.t, right: cfg.w - cfg.area.r, bottom: cfg.h - cfg.area.b - XH } },
      plugins: { legend: { display: false }, tooltip: { enabled: false } },
      scales: { x: axisOpts(cfg.x, true) as any, y: axisOpts(cfg.y, false) as any },
    },
    plugins: [makeDecor(cfg) as any],
  });
}

export default function App() {
  const refs = [useRef<HTMLCanvasElement>(null), useRef<HTMLCanvasElement>(null), useRef<HTMLCanvasElement>(null)];
  useEffect(() => {
    const charts = PANELS.map((cfg, i) => buildChart(refs[i].current as HTMLCanvasElement, cfg));
    return () => charts.forEach((c) => c.destroy());
  }, []);
  return (
    <div style={{ position: 'absolute', left: 0, top: 0, width: 912, height: 919, background: '#fff', overflow: 'hidden' }}>
      {PANELS.map((cfg, i) => (
        <canvas
          key={i}
          ref={refs[i]}
          width={cfg.w}
          height={cfg.h}
          style={{ position: 'absolute', left: cfg.left, top: cfg.top, width: cfg.w, height: cfg.h }}
        />
      ))}
    </div>
  );
}
